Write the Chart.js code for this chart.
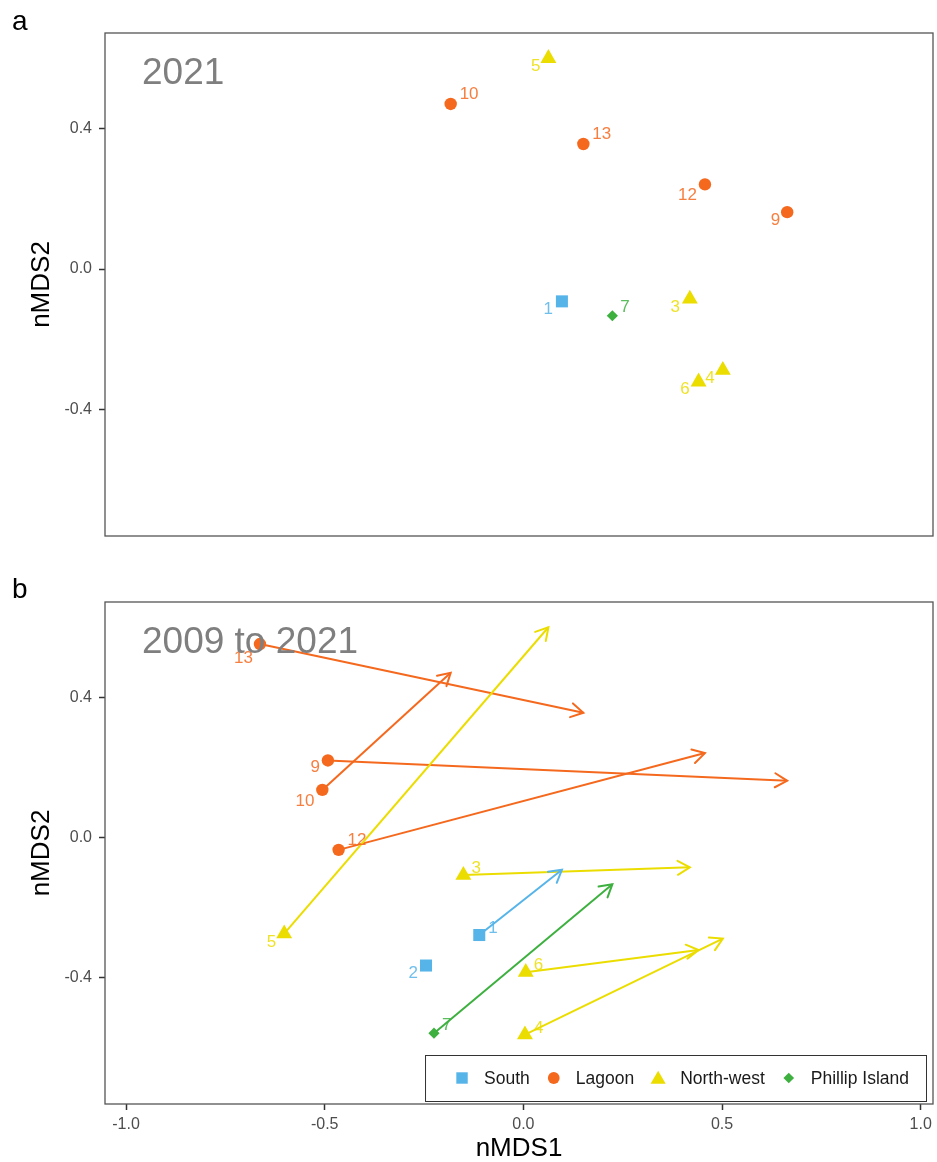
<!DOCTYPE html>
<html>
<head>
<meta charset="utf-8">
<script src="https://cdn.jsdelivr.net/npm/chart.js@4.4.0/dist/chart.umd.min.js"></script>
<style>
  body { margin: 0; background: #fff; }
  #wrap { position: relative; width: 937px; height: 1162px; }
  canvas { position: absolute; left: 0; }
  #chartA { top: 0; }
  #chartB { top: 560px; }
</style>
</head>
<body>
<div id="wrap">
  <canvas id="chartA" width="937" height="560"></canvas>
  <canvas id="chartB" width="937" height="602"></canvas>
</div>
<script>
// site ordination scores (nMDS1, nMDS2) for 2009 and 2021
const sites = ['1', '2', '3', '4', '5', '6', '7', '9', '10', '12', '13'];
const siteRegion = ['South', 'South', 'North-west', 'North-west', 'North-west', 'North-west',
  'Phillip Island', 'Lagoon', 'Lagoon', 'Lagoon', 'Lagoon'];
const x2009 = [-0.111, -0.245, -0.151, 0.004, -0.602, 0.006, -0.225, -0.492, -0.506, -0.465, -0.663];
const y2009 = [-0.278, -0.365, -0.107, -0.562, -0.274, -0.384, -0.558, 0.220, 0.136, -0.035, 0.552];
const x2021 = [0.097, null, 0.419, 0.502, 0.063, 0.441, 0.224, 0.664, -0.183, 0.457, 0.151];
const y2021 = [-0.092, null, -0.085, -0.288, 0.600, -0.321, -0.133, 0.162, 0.470, 0.241, 0.356];

const regions = ['South', 'Lagoon', 'North-west', 'Phillip Island'];
const xTicks = [-1.0, -0.5, 0.0, 0.5, 1.0];
const yTicks = [-0.4, 0.0, 0.4];

const regionColor = {
  'South': '#56B4E9',
  'Lagoon': '#F4691E',
  'North-west': '#EBDD00',
  'Phillip Island': '#3DB03F'
};
const regionShape = { 'South': 'rect', 'Lagoon': 'circle', 'North-west': 'triangle', 'Phillip Island': 'rectRot' };
const regionSize = { 'South': 8.5, 'Lagoon': 6.2, 'North-west': 9.2, 'Phillip Island': 5.6 };

// label nudges in pixels: [dx, dy, textAlign]
const nudgeA = {
  '1': [-9, 8, 'right'], '3': [-10, 8, 'right'], '4': [-8, 8, 'right'], '5': [-8, 8, 'right'],
  '6': [-9, 8, 'right'], '7': [8, -8, 'left'], '9': [-7, 8, 'right'], '10': [9, -10, 'left'],
  '12': [-8, 11, 'right'], '13': [9, -10, 'left']
};
const nudgeB = {
  '1': [9, -7, 'left'], '2': [-8, 8, 'right'], '3': [8, -7, 'left'], '4': [9, -6, 'left'],
  '5': [-8, 9, 'right'], '6': [8, -7, 'left'], '7': [8, -8, 'left'], '9': [-8, 7, 'right'],
  '10': [-8, 11, 'right'], '12': [9, -10, 'left'], '13': [-7, 14, 'right']
};

const FONT = '"Liberation Sans", Arial, Helvetica, sans-serif';
const Y_MIN = -0.76, Y_MAX = 0.672;
const X_MIN = -1.053, X_MAX = 1.031;

function pointSets(xs, ys) {
  return regions.map(r => {
    const pts = [];
    sites.forEach((s, i) => {
      if (siteRegion[i] === r && xs[i] !== null) pts.push({ x: xs[i], y: ys[i], site: s });
    });
    return {
      label: r,
      data: pts,
      pointStyle: regionShape[r],
      pointRadius: regionSize[r],
      pointHoverRadius: regionSize[r],
      pointBackgroundColor: regionColor[r],
      pointBorderColor: regionColor[r],
      pointBorderWidth: 0,
      backgroundColor: regionColor[r],
      borderColor: regionColor[r],
      showLine: false,
      region: r
    };
  });
}

function arrowSets() {
  const out = [];
  sites.forEach((s, i) => {
    if (x2021[i] === null) return;
    const c = regionColor[siteRegion[i]];
    out.push({
      label: 'site ' + s,
      data: [{ x: x2009[i], y: y2009[i] }, { x: x2021[i], y: y2021[i] }],
      showLine: true,
      borderColor: c,
      borderWidth: 2,
      pointRadius: 0,
      pointHoverRadius: 0,
      pointHitRadius: 0,
      isArrow: true
    });
  });
  return out;
}

const decor = {
  id: 'decor',
  afterDatasetsDraw(chart) {
    const o = chart.options.plugins.decor;
    const ctx = chart.ctx;
    ctx.save();
    // open arrowheads at the 2021 end of each segment
    chart.data.datasets.forEach((ds, i) => {
      if (!ds.isArrow) return;
      const m = chart.getDatasetMeta(i);
      const a = m.data[0], b = m.data[1];
      const ang = Math.atan2(b.y - a.y, b.x - a.x);
      const len = 14, spread = Math.PI / 6;
      ctx.strokeStyle = ds.borderColor;
      ctx.lineWidth = 2;
      ctx.lineCap = 'round';
      ctx.beginPath();
      ctx.moveTo(b.x - len * Math.cos(ang - spread), b.y - len * Math.sin(ang - spread));
      ctx.lineTo(b.x, b.y);
      ctx.lineTo(b.x - len * Math.cos(ang + spread), b.y - len * Math.sin(ang + spread));
      ctx.stroke();
    });
    // site number labels
    ctx.font = '17px ' + FONT;
    ctx.textBaseline = 'middle';
    ctx.globalAlpha = 0.85;
    chart.data.datasets.forEach((ds, i) => {
      if (ds.isArrow) return;
      const m = chart.getDatasetMeta(i);
      m.data.forEach((pt, j) => {
        const site = ds.data[j].site;
        const n = o.nudge[site] || [8, -8, 'left'];
        ctx.fillStyle = regionColor[ds.region];
        ctx.textAlign = n[2];
        ctx.fillText(site, pt.x + n[0], pt.y + n[1]);
      });
    });
    ctx.restore();
  },
  afterDraw(chart) {
    const o = chart.options.plugins.decor;
    const ctx = chart.ctx;
    const ca = chart.chartArea;
    ctx.save();
    // panel border
    ctx.strokeStyle = '#555';
    ctx.lineWidth = 1.3;
    ctx.strokeRect(ca.left, ca.top, ca.right - ca.left, ca.bottom - ca.top);
    // panel letter
    ctx.fillStyle = '#000';
    ctx.font = '28px ' + FONT;
    ctx.textAlign = 'left';
    ctx.textBaseline = 'alphabetic';
    ctx.fillText(o.letter, 12, o.letterY);
    // year caption inside the panel
    ctx.fillStyle = '#7f7f7f';
    ctx.font = '37px ' + FONT;
    ctx.fillText(o.caption, ca.left + 37, ca.top + 51);
    // legend
    if (o.legend) {
      ctx.font = '17.5px ' + FONT;
      const widths = regions.map(r => ctx.measureText(r).width);
      let w = 28;
      widths.forEach(tw => { w += 9 + 22 + tw + 15; });
      w += 2;
      const right = ca.right - 7, bottom = ca.bottom - 3, h = 46;
      const left = right - w, top = bottom - h;
      ctx.fillStyle = '#fff';
      ctx.fillRect(left, top, w, h);
      ctx.strokeStyle = '#333';
      ctx.lineWidth = 1;
      ctx.strokeRect(left + 0.5, top + 0.5, w, h);
      let cur = left + 28;
      const cy = top + h / 2;
      regions.forEach((r, k) => {
        const sx = cur + 9;
        ctx.fillStyle = regionColor[r];
        ctx.strokeStyle = regionColor[r];
        Chart.helpers.drawPoint(ctx, {
          pointStyle: regionShape[r],
          radius: regionSize[r] * 0.95,
          borderWidth: 0,
          rotation: 0
        }, sx, r === 'North-west' ? cy + 1.5 : cy);
        ctx.fillStyle = '#1a1a1a';
        ctx.textAlign = 'left';
        ctx.textBaseline = 'middle';
        ctx.fillText(r, sx + 22, cy + 1);
        cur = sx + 22 + widths[k] + 15;
      });
    }
    ctx.restore();
  }
};

function makeChart(id, datasets, opts) {
  return new Chart(document.getElementById(id), {
    type: 'scatter',
    data: { datasets: datasets },
    options: {
      responsive: false,
      animation: false,
      events: [],
      layout: { autoPadding: false, padding: { left: 0, right: 4, top: opts.top, bottom: opts.bottom } },
      scales: {
        x: {
          type: 'linear',
          min: X_MIN,
          max: X_MAX,
          display: opts.showX,
          afterBuildTicks: s => { s.ticks = xTicks.map(v => ({ value: v })); },
          afterFit: s => {
            s.height = opts.showX ? 58 : 0;
            s.paddingLeft = 0;
            s.paddingRight = 0;
          },
          border: { display: false },
          grid: { drawOnChartArea: false, drawTicks: true, tickLength: 6, tickColor: '#333', tickWidth: 1.5 },
          ticks: {
            autoSkip: false, maxRotation: 0, padding: 5,
            color: '#4d4d4d', font: { size: 16, family: FONT },
            callback: v => v.toFixed(1)
          },
          title: {
            display: true, text: 'nMDS1', color: '#000',
            font: { size: 26, family: FONT, lineHeight: 1 },
            padding: { top: 0, bottom: 0 }
          }
        },
        y: {
          type: 'linear',
          min: Y_MIN,
          max: Y_MAX,
          afterBuildTicks: s => { s.ticks = yTicks.map(v => ({ value: v })); },
          afterFit: s => {
            s.width = 105;
            s.paddingTop = 0;
            s.paddingBottom = 0;
          },
          border: { display: false },
          grid: { drawOnChartArea: false, drawTicks: true, tickLength: 6, tickColor: '#333', tickWidth: 1.5 },
          ticks: {
            autoSkip: false, padding: 7,
            color: '#4d4d4d', font: { size: 16, family: FONT },
            callback: v => v.toFixed(1)
          },
          title: {
            display: true, text: 'nMDS2', color: '#000',
            font: { size: 26, family: FONT, lineHeight: 1 },
            padding: { top: 29, bottom: 0 }
          }
        }
      },
      plugins: {
        legend: { display: false },
        tooltip: { enabled: false },
        decor: opts.decor
      }
    },
    plugins: [decor]
  });
}

// a: 2021 positions
makeChart('chartA', pointSets(x2021, y2021), {
  top: 33, bottom: 24, showX: false,
  decor: { letter: 'a', letterY: 30, caption: '2021', nudge: nudgeA, legend: false }
});

// b: change from 2009 (points) to 2021 (arrow tips)
makeChart('chartB', pointSets(x2009, y2009).concat(arrowSets()), {
  top: 42, bottom: 0, showX: true,
  decor: { letter: 'b', letterY: 38, caption: '2009 to 2021', nudge: nudgeB, legend: true }
});
</script>
</body>
</html>
